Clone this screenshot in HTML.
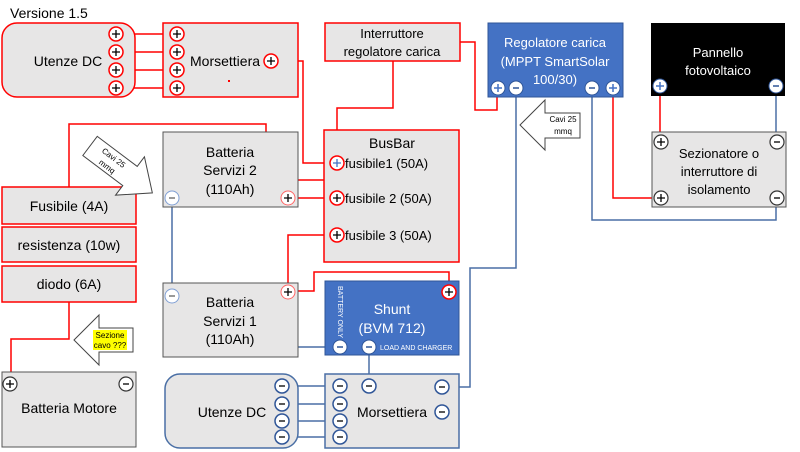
<!DOCTYPE html>
<html><head><meta charset="utf-8"><style>
html,body{margin:0;padding:0;background:#fff;}
svg{display:block;font-family:"Liberation Sans",sans-serif;}
</style></head><body>
<svg width="800" height="452" viewBox="0 0 800 452" xmlns="http://www.w3.org/2000/svg">
<defs>
<g id="pr"><circle r="7" fill="#fff" stroke="#f00" stroke-width="1.5"/><path d="M-4 0H4M0 -4V4" stroke="#000" stroke-width="1.3"/></g>
<g id="pk"><circle r="7" fill="#fff" stroke="#333" stroke-width="1.2"/><path d="M-4 0H4M0 -4V4" stroke="#000" stroke-width="1.3"/></g>
<g id="mk"><circle r="7" fill="#fff" stroke="#333" stroke-width="1.2"/><path d="M-3 0H3" stroke="#000" stroke-width="1.3"/></g>
<g id="mb"><circle r="7" fill="#fff" stroke="#2f5597" stroke-width="1.5"/><path d="M-3 0H3" stroke="#000" stroke-width="1.3"/></g>
<g id="mw"><circle r="7" fill="#fff" stroke="#2f5597" stroke-width="1"/><path d="M-3 0H3" stroke="#2f5597" stroke-width="1.5"/></g>
<g id="pw"><circle r="7" fill="#fff" stroke="#2f5597" stroke-width="1"/><path d="M-4 0H4M0 -4V4" stroke="#4472c4" stroke-width="1.5"/></g>
</defs>
<text x="10" y="18" font-size="14" fill="#000">Versione 1.5</text>

<!-- wires red -->
<g fill="none" stroke="#f00" stroke-width="1.5">
<path d="M116 34H177M116 52H177M116 70H177M116 88H177"/>
<path d="M278 61H303V163H330"/>
<path d="M393 61V108H337V156"/>
<path d="M460 42H475V110H497V95"/>
<path d="M337 170V180H288V191"/>
<path d="M295 198H330"/>
<path d="M69 187V124H266V198H281"/>
<path d="M337 205V228M330 235H288V285"/>
<path d="M298 291H314V272H449V285"/>
<path d="M613 95V198H654"/>
<path d="M660 93V135"/>
<path d="M69 302V339H11V377"/>
</g>
<!-- wires blue -->
<g fill="none" stroke="#4a6fa5" stroke-width="1.5">
<path d="M172 205V347H333"/>
<path d="M369 354V386"/>
<path d="M516 95V268H470V387H449"/>
<path d="M592 95V220H776V205"/>
<path d="M776 93V135"/>
<path d="M289 386H333M289 404H333M289 421H333M289 437H333"/>
</g>

<!-- Top Utenze DC -->
<rect x="2" y="23" width="133" height="74" rx="15" fill="#e7e6e6" stroke="#f00" stroke-width="1.5"/>
<text x="68" y="66" font-size="14" text-anchor="middle">Utenze DC</text>
<use href="#pr" x="116" y="34"/><use href="#pr" x="116" y="52"/><use href="#pr" x="116" y="70"/><use href="#pr" x="116" y="88"/>

<rect x="163" y="23" width="135" height="74" fill="#e7e6e6" stroke="#f00" stroke-width="1.5"/>
<text x="190" y="66" font-size="14">Morsettiera</text>
<rect x="228" y="80" width="2" height="2" fill="#f00"/>
<use href="#pr" x="177" y="34"/><use href="#pr" x="177" y="52"/><use href="#pr" x="177" y="70"/><use href="#pr" x="177" y="88"/>
<use href="#pr" x="271" y="61"/>

<rect x="325" y="23" width="135" height="38" fill="#e7e6e6" stroke="#f00" stroke-width="1.5"/>
<text x="392" y="38" font-size="13" text-anchor="middle">Interruttore</text>
<text x="392" y="56" font-size="13" text-anchor="middle">regolatore carica</text>

<!-- Regolatore -->
<rect x="488" y="23" width="135" height="74" fill="#4472c4" stroke="#2f5597" stroke-width="1"/>
<text x="555" y="47" font-size="13" fill="#fff" text-anchor="middle">Regolatore carica</text>
<text x="555" y="66" font-size="13" fill="#fff" text-anchor="middle">(MPPT SmartSolar</text>
<text x="555" y="84" font-size="13" fill="#fff" text-anchor="middle">100/30)</text>
<use href="#pw" x="498" y="88"/><use href="#mw" x="516" y="88"/><use href="#mw" x="592" y="88"/><use href="#pw" x="613" y="88"/>

<!-- Pannello -->
<rect x="651" y="23" width="134" height="73" fill="#000"/>
<text x="718" y="57" font-size="13" fill="#fff" text-anchor="middle">Pannello</text>
<text x="718" y="75" font-size="13" fill="#fff" text-anchor="middle">fotovoltaico</text>
<use href="#pw" x="660" y="86"/><use href="#mw" x="776" y="86"/>

<!-- Sezionatore -->
<rect x="652" y="132" width="134" height="75" fill="#e7e6e6" stroke="#555" stroke-width="1"/>
<text x="719" y="158" font-size="13" text-anchor="middle">Sezionatore o</text>
<text x="719" y="176" font-size="13" text-anchor="middle">interruttore di</text>
<text x="719" y="194" font-size="13" text-anchor="middle">isolamento</text>
<use href="#pk" x="661" y="142"/><use href="#pk" x="661" y="198"/><use href="#mk" x="777" y="142"/><use href="#mk" x="777" y="198"/>

<!-- Arrow cavi right -->
<polygon points="520,125 545,100 545,113 580,113 580,138 545,138 545,150" fill="#fff" stroke="#444" stroke-width="1"/>
<text x="563" y="122" font-size="8" text-anchor="middle">Cavi 25</text>
<text x="563" y="134" font-size="8" text-anchor="middle">mmq</text>

<!-- BusBar -->
<rect x="324" y="130" width="135" height="132" fill="#e7e6e6" stroke="#f00" stroke-width="1.5"/>
<text x="392" y="148" font-size="14" text-anchor="middle">BusBar</text>
<text x="345" y="168" font-size="13">fusibile1 (50A)</text>
<text x="345" y="203" font-size="13">fusibile 2 (50A)</text>
<text x="345" y="240" font-size="13">fusibile 3 (50A)</text>
<circle cx="337" cy="163" r="7" fill="#fff" stroke="#f00" stroke-width="1.5"/><path d="M333 163H341M337 159V167" stroke="#4472c4" stroke-width="1.3"/>
<use href="#pr" x="337" y="198"/><use href="#pr" x="337" y="235"/>

<!-- Batteria Servizi 2 -->
<rect x="163" y="132" width="135" height="75" fill="#e7e6e6" stroke="#555" stroke-width="1"/>
<text x="230" y="157" font-size="14" text-anchor="middle">Batteria</text>
<text x="230" y="175" font-size="14" text-anchor="middle">Servizi 2</text>
<text x="230" y="194" font-size="14" text-anchor="middle">(110Ah)</text>
<circle cx="172" cy="198" r="7" fill="#fff" stroke="#7f9fd4" stroke-width="1"/><path d="M169 198H175" stroke="#333"/>
<circle cx="288" cy="198" r="7" fill="#fff" stroke="#f66" stroke-width="1"/><path d="M284 198H292M288 194V202" stroke="#000" stroke-width="1.3"/>

<!-- left column -->
<rect x="2" y="187" width="134" height="37" fill="#e7e6e6" stroke="#f00" stroke-width="1.5"/>
<text x="69" y="211" font-size="14" text-anchor="middle">Fusibile (4A)</text>
<rect x="2" y="227" width="134" height="35" fill="#e7e6e6" stroke="#f00" stroke-width="1.5"/>
<text x="69" y="250" font-size="14" text-anchor="middle">resistenza (10w)</text>
<rect x="2" y="266" width="134" height="36" fill="#e7e6e6" stroke="#f00" stroke-width="1.5"/>
<text x="69" y="289" font-size="14" text-anchor="middle">diodo (6A)</text>

<!-- rotated arrow -->
<g transform="translate(122,170) rotate(37)">
<polygon points="-40,-12 10,-12 10,-24 38,0 10,24 10,12 -40,12" fill="#fff" stroke="#444" stroke-width="1"/>
<text x="-14" y="-2" font-size="8" text-anchor="middle">Cavi 25</text>
<text x="-14" y="9" font-size="8" text-anchor="middle">mmq</text>
</g>

<!-- Batteria Servizi 1 -->
<rect x="163" y="283" width="135" height="74" fill="#e7e6e6" stroke="#555" stroke-width="1"/>
<text x="230" y="307" font-size="14" text-anchor="middle">Batteria</text>
<text x="230" y="326" font-size="14" text-anchor="middle">Servizi 1</text>
<text x="230" y="344" font-size="14" text-anchor="middle">(110Ah)</text>
<circle cx="172" cy="296" r="7" fill="#fff" stroke="#7f9fd4" stroke-width="1"/><path d="M169 296H175" stroke="#333"/>
<circle cx="288" cy="292" r="7" fill="#fff" stroke="#f66" stroke-width="1"/><path d="M284 292H292M288 288V296" stroke="#000" stroke-width="1.3"/>

<!-- Shunt -->
<rect x="325" y="281" width="134" height="74" fill="#4472c4" stroke="#2f5597" stroke-width="1"/>
<text transform="translate(338,286) rotate(90)" font-size="7" fill="#fff">BATTERY ONLY</text>
<text x="392" y="314" font-size="14" fill="#fff" text-anchor="middle">Shunt</text>
<text x="392" y="333" font-size="14" fill="#fff" text-anchor="middle">(BVM 712)</text>
<text x="380" y="350" font-size="7" fill="#fff">LOAD AND CHARGER</text>
<use href="#pr" x="449" y="292"/>
<use href="#mw" x="340" y="347"/><use href="#mw" x="369" y="347"/>

<!-- Batteria Motore -->
<rect x="2" y="372" width="134" height="75" fill="#e7e6e6" stroke="#555" stroke-width="1"/>
<text x="69" y="413" font-size="14" text-anchor="middle">Batteria Motore</text>
<use href="#pk" x="10" y="384"/><use href="#mk" x="126" y="384"/>

<!-- Sezione arrow -->
<polygon points="74,340 99,315 99,328 133,328 133,352 99,352 99,365" fill="#fff" stroke="#444" stroke-width="1"/>
<rect x="93" y="330" width="34" height="20" fill="#ff0"/>
<text x="110" y="338" font-size="8" text-anchor="middle">Sezione</text>
<text x="110" y="348" font-size="8" text-anchor="middle">cavo ???</text>

<!-- bottom Utenze DC -->
<rect x="165" y="374" width="133" height="74" rx="15" fill="#e7e6e6" stroke="#4a6fa5" stroke-width="1.5"/>
<text x="232" y="417" font-size="14" text-anchor="middle">Utenze DC</text>
<use href="#mb" x="282" y="386"/><use href="#mb" x="282" y="404"/><use href="#mb" x="282" y="421"/><use href="#mb" x="282" y="437"/>

<rect x="325" y="374" width="134" height="74" fill="#e7e6e6" stroke="#4a6fa5" stroke-width="1.5"/>
<text x="392" y="417" font-size="14" text-anchor="middle">Morsettiera</text>
<use href="#mb" x="340" y="386"/><use href="#mb" x="340" y="404"/><use href="#mb" x="340" y="421"/><use href="#mb" x="340" y="437"/>
<use href="#mb" x="369" y="386"/><use href="#mb" x="442" y="387"/><use href="#mb" x="442" y="412"/>
</svg>
</body></html>
